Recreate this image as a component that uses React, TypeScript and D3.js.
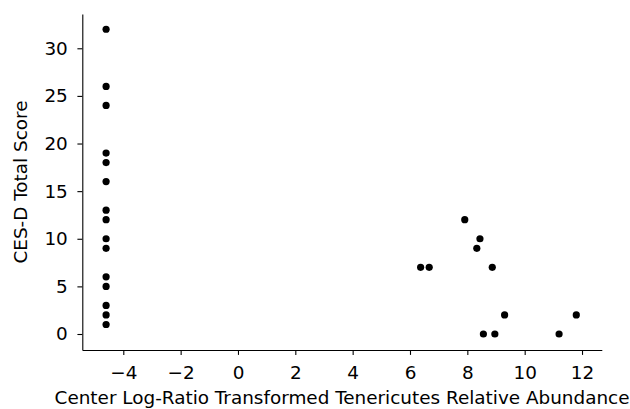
import React, { useEffect, useRef } from "react";
import * as d3 from "d3";

const xValues: number[] = [
  -4.6, -4.6, -4.6, -4.6, -4.6, -4.6, -4.6, -4.6, -4.6, -4.6, -4.6, -4.6, -4.6, -4.6, -4.6,
  6.37, 6.67, 7.91, 8.44, 8.33, 8.87, 9.3, 8.56, 8.96, 11.2, 11.8,
];
const yValues: number[] = [
  32, 26, 24, 19, 18, 16, 13, 12, 10, 9, 6, 5, 3, 2, 1,
  7, 7, 12, 10, 9, 7, 2, 0, 0, 0, 2,
];
const xTicks: number[] = [-4, -2, 0, 2, 4, 6, 8, 10, 12];
const yTicks: number[] = [0, 5, 10, 15, 20, 25, 30];
const xLabel = "Center Log-Ratio Transformed Tenericutes Relative Abundance";
const yLabel = "CES-D Total Score";

const W = 630;
const H = 409;
const FONT = "'DejaVu Sans', sans-serif";
const FS = 18.4;

export default function App() {
  const ref = useRef<SVGSVGElement | null>(null);

  useEffect(() => {
    const svg = d3.select(ref.current);
    svg.selectAll("*").remove();

    const x = d3.scaleLinear().domain([-5.43, 12.69]).range([82.3, 601.8]);
    const y = d3.scaleLinear().domain([-1.68, 33.6]).range([350, 14]);

    const fmt = d3.format("");

    const gx = svg
      .append("g")
      .attr("transform", `translate(0,${y.range()[0]})`)
      .call(
        d3.axisBottom(x).tickValues(xTicks).tickFormat((d: any) => fmt(d)).tickSize(4.9).tickSizeOuter(0).tickPadding(11.3)
      );
    const gy = svg
      .append("g")
      .attr("transform", `translate(${x.range()[0]},0)`)
      .call(
        d3.axisLeft(y).tickValues(yTicks).tickFormat((d: any) => fmt(d)).tickSize(4.9).tickSizeOuter(0).tickPadding(9.6)
      );

    [gx, gy].forEach((g) => {
      g.select(".domain").attr("stroke", "#000").attr("stroke-width", 1.1);
      g.selectAll(".tick line").attr("stroke", "#000").attr("stroke-width", 1.1);
      g.selectAll(".tick text")
        .attr("fill", "#000")
        .style("font-family", FONT)
        .style("font-size", `${FS}px`);
      g.attr("font-family", null).attr("font-size", null);
    });

    svg
      .append("g")
      .selectAll("circle")
      .data(xValues.map((v, i) => [v, yValues[i]]))
      .join("circle")
      .attr("cx", (d) => x(d[0]))
      .attr("cy", (d) => y(d[1]))
      .attr("r", 3.6)
      .attr("fill", "#000");

    svg
      .append("text")
      .attr("x", (x.range()[0] + x.range()[1]) / 2)
      .attr("y", 404.4)
      .attr("text-anchor", "middle")
      .style("font-family", FONT)
      .style("font-size", `${FS}px`)
      .attr("fill", "#000")
      .text(xLabel);

    svg
      .append("text")
      .attr("transform", `translate(27.3,${(y.range()[0] + y.range()[1]) / 2}) rotate(-90)`)
      .attr("text-anchor", "middle")
      .style("font-family", FONT)
      .style("font-size", `${FS}px`)
      .attr("fill", "#000")
      .text(yLabel);
  }, []);

  return (
    <svg
      ref={ref}
      width={W}
      height={H}
      style={{ position: "absolute", left: 0, top: 0, background: "#fff" }}
    />
  );
}
